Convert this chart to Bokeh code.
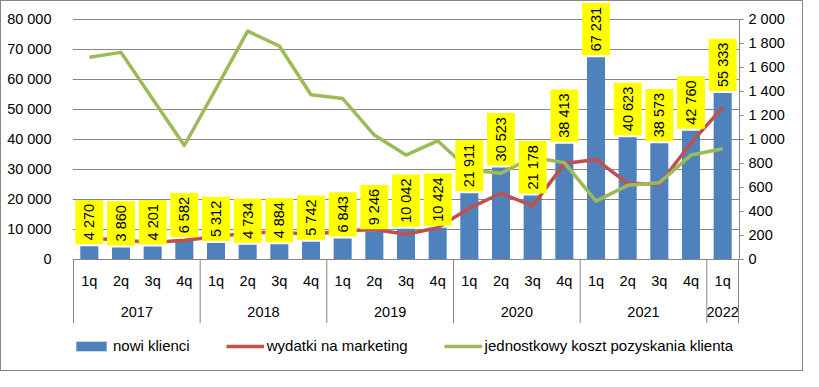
import math
from bokeh.plotting import figure
from bokeh.models import (Range1d, LinearAxis, FixedTicker, ColumnDataSource,
                          Legend, LegendItem)
from bokeh.core.properties import value
from bokeh.embed import file_html
from bokeh.resources import INLINE

# ---------------- data ----------------
years = ["2017", "2018", "2019", "2020", "2021", "2022"]
quarters_per_year = [4, 4, 4, 4, 4, 1]
quarters = ["1q", "2q", "3q", "4q",
            "1q", "2q", "3q", "4q",
            "1q", "2q", "3q", "4q",
            "1q", "2q", "3q", "4q",
            "1q", "2q", "3q", "4q",
            "1q"]
new_clients = [4270, 3860, 4201, 6582, 5312, 4734, 4884, 5742, 6843, 9246,
               10042, 10424, 21911, 30523, 21178, 38413, 67231, 40623, 38573,
               42760, 55333]
marketing = [6900, 6360, 5500, 6260, 7400, 8680, 9000, 8170, 9310, 9850,
             8260, 10390, 16950, 21930, 17700, 31800, 33160, 25220, 24900,
             38680, 50540]
unit_cost = [1682, 1722, 1333, 946, 1420, 1899, 1775, 1369, 1337, 1033,
             866, 985, 741, 715, 848, 803, 482, 614, 636, 866, 919]
left_ticks = [0, 10000, 20000, 30000, 40000, 50000, 60000, 70000, 80000]
left_tick_labels = ["0", "10 000", "20 000", "30 000", "40 000", "50 000",
                    "60 000", "70 000", "80 000"]
right_ticks = [0, 200, 400, 600, 800, 1000, 1200, 1400, 1600, 1800, 2000]
right_tick_labels = ["0", "200", "400", "600", "800", "1 000", "1 200",
                     "1 400", "1 600", "1 800", "2 000"]
series_names = ["nowi klienci", "wydatki na marketing",
                "jednostkowy koszt pozyskania klienta"]

# ---------------- layout ----------------
FONT = "Liberation Sans"
GRAY = "#868686"
BLUE = "#4F81BD"
RED = "#C0504D"
GREEN = "#9BBB59"

FRAME_W = 667
FRAME_H = 363
TOP_PX = 17.5      # px from frame top to the 80 000 level
ZERO_PX = 257.5    # px from frame top to the 0 level
upp = 80000 / (ZERO_PX - TOP_PX)      # left units per px
y_end = 80000 + TOP_PX * upp
y_start = -(FRAME_H - ZERO_PX) * upp
ratio = 80000 / 2000

n = len(quarters)
cat_px = (FRAME_W - 2) / n
eps = 1.0 / cat_px
x_range = Range1d(-0.5 - eps, n - 0.5 + eps)

p = figure(frame_width=FRAME_W, frame_height=FRAME_H,
           x_range=x_range, y_range=Range1d(y_start, y_end),
           output_backend="svg", toolbar_location=None,
           x_axis_location=None,
           min_border_left=71, min_border_right=63,
           min_border_top=0, min_border_bottom=6)
p.extra_y_ranges = {"right": Range1d(y_start / ratio, y_end / ratio)}
p.outline_line_color = None
p.background_fill_color = "white"
p.border_fill_color = "white"
p.styles = {"border": "1px solid #868686"}

# left axis
ya = p.yaxis[0]
ya.ticker = FixedTicker(ticks=left_ticks)
ya.bounds = (0, 80000)
ya.major_label_overrides = {t: l for t, l in zip(left_ticks, left_tick_labels)}
ya.axis_line_color = None
ya.major_tick_line_color = None
ya.minor_tick_line_color = None
ya.major_label_standoff = 15
ya.major_label_text_font = FONT
ya.major_label_text_font_size = "14.5px"
ya.major_label_text_color = "#000000"

# right axis
ra = LinearAxis(y_range_name="right", ticker=FixedTicker(ticks=right_ticks))
ra.bounds = (0, 2000)
ra.major_label_overrides = {t: l for t, l in zip(right_ticks, right_tick_labels)}
ra.axis_line_color = GRAY
ra.major_tick_line_color = GRAY
ra.major_tick_out = 4
ra.major_tick_in = 0
ra.minor_tick_line_color = None
ra.major_label_standoff = 5
ra.major_label_text_font = FONT
ra.major_label_text_font_size = "14.5px"
ra.major_label_text_color = "#000000"
p.add_layout(ra, "right")

p.xgrid.visible = False
p.ygrid[0].ticker = FixedTicker(ticks=left_ticks)
p.ygrid[0].grid_line_color = GRAY
p.ygrid[0].grid_line_width = 1

xs = list(range(n))
src = ColumnDataSource(dict(
    x=xs, clients=new_clients, marketing=marketing, cost=unit_cost,
    lab=[f"{v:,}".replace(",", " ") for v in new_clients]))

bars = p.vbar(x="x", top="clients", bottom=0, width=0.57, source=src,
              fill_color=BLUE, line_color=None)
red = p.line(x="x", y="marketing", source=src, line_color=RED,
             line_width=3.5, line_join="round")
green = p.line(x="x", y="cost", source=src, line_color=GREEN,
               line_width=3.5, line_join="round", y_range_name="right")

# data labels
p.text(x="x", y="clients", text="lab", source=src, angle=math.pi / 2,
       text_align="left", text_baseline="middle", y_offset=-2,
       text_font=value(FONT), text_font_size="14.5px", text_color="#000000",
       background_fill_color="#FFFF00",
       padding=dict(left=4, right=4, top=6, bottom=6))

# category axis drawn below the zero line
q_y = -22 * upp
yr_y = -52.5 * upp
sep_bottom = -64 * upp
p.text(x=xs, y=[q_y] * n, text=quarters, text_align="center",
       text_baseline="middle", text_font=value(FONT),
       text_font_size="14.5px", text_color="#000000")
centers, seps = [], [-0.5]
start = 0
for c in quarters_per_year:
    centers.append(start + (c - 1) / 2)
    start += c
    seps.append(start - 0.5)
p.text(x=centers, y=[yr_y] * len(years), text=years, text_align="center",
       text_baseline="middle", text_font=value(FONT),
       text_font_size="14.5px", text_color="#000000")
p.segment(x0=seps, y0=[0] * len(seps), x1=seps, y1=[sep_bottom] * len(seps),
          line_color=GRAY, line_width=1)

legend = Legend(items=[LegendItem(label=series_names[0], renderers=[bars]),
                       LegendItem(label=series_names[1], renderers=[red]),
                       LegendItem(label=series_names[2], renderers=[green])],
                location=(0, 10), orientation="horizontal",
                border_line_color=None, background_fill_alpha=0,
                glyph_width=38, glyph_height=12, label_standoff=3,
                spacing=36, padding=0, margin=0,
                label_text_font=FONT, label_text_font_size="15px",
                label_text_color="#000000")
p.add_layout(legend)

open("out.html", "w").write(file_html(p, INLINE))
